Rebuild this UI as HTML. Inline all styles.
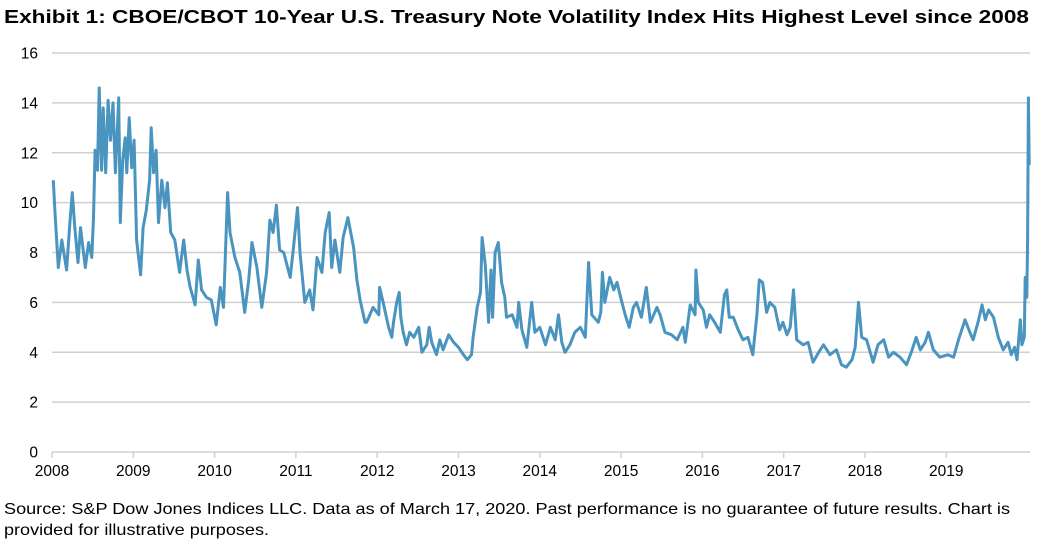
<!DOCTYPE html>
<html><head><meta charset="utf-8"><style>
body{margin:0;background:#fff;width:1040px;height:544px;overflow:hidden;font-family:"Liberation Sans",Arial,sans-serif;}
svg{position:absolute;left:0;top:0;}
</style></head><body>
<svg width="1040" height="544" id="chart">
<text x="4" y="23" font-size="18.5" font-weight="bold" font-family="Liberation Sans, Arial, sans-serif" textLength="1025" lengthAdjust="spacingAndGlyphs">Exhibit 1: CBOE/CBOT 10-Year U.S. Treasury Note Volatility Index Hits Highest Level since 2008</text>
<g font-size="16" font-family="Liberation Sans, Arial, sans-serif">
<text x="4" y="514" textLength="1006" lengthAdjust="spacingAndGlyphs">Source: S&amp;P Dow Jones Indices LLC. Data as of March 17, 2020. Past performance is no guarantee of future results. Chart is</text>
<text x="4" y="535" textLength="265" lengthAdjust="spacingAndGlyphs">provided for illustrative purposes.</text>
</g>
</svg>
<script>
const yTicks=[0,2,4,6,8,10,12,14,16];
const xTicks=[2008,2009,2010,2011,2012,2013,2014,2015,2016,2017,2018,2019];
const dates=[2008.016,2008.037,2008.078,2008.12,2008.18,2008.22,2008.25,2008.28,2008.32,2008.35,2008.41,2008.45,2008.49,2008.51,2008.53,2008.56,2008.58,2008.61,2008.63,2008.66,2008.69,2008.72,2008.75,2008.78,2008.82,2008.84,2008.87,2008.90,2008.92,2008.95,2008.98,2009.01,2009.04,2009.09,2009.12,2009.16,2009.20,2009.22,2009.25,2009.28,2009.31,2009.35,2009.39,2009.42,2009.46,2009.51,2009.57,2009.62,2009.66,2009.70,2009.76,2009.80,2009.84,2009.90,2009.96,2010.02,2010.07,2010.11,2010.16,2010.19,2010.25,2010.31,2010.37,2010.42,2010.46,2010.52,2010.58,2010.64,2010.68,2010.72,2010.76,2010.80,2010.85,2010.93,2010.97,2011.02,2011.05,2011.11,2011.17,2011.21,2011.26,2011.32,2011.36,2011.41,2011.44,2011.48,2011.54,2011.58,2011.64,2011.71,2011.75,2011.79,2011.85,
2011.87,2011.95,2012.02,2012.03,2012.08,2012.14,2012.18,2012.20,2012.24,2012.27,2012.29,2012.32,2012.36,2012.40,2012.45,2012.51,2012.55,2012.61,2012.64,2012.67,2012.73,2012.77,2012.81,2012.88,2012.94,2013.0,2013.06,2013.11,2013.16,2013.18,2013.23,2013.27,2013.29,2013.33,2013.37,2013.40,2013.42,2013.45,2013.49,2013.53,2013.57,2013.59,2013.66,2013.72,2013.74,2013.78,2013.84,2013.90,2013.94,2014.00,2014.07,2014.13,2014.19,2014.23,2014.27,2014.31,2014.37,2014.43,2014.50,2014.56,2014.60,2014.64,2014.72,2014.75,2014.77,2014.80,2014.86,2014.91,2014.95,2015.01,2015.05,2015.10,2015.15,2015.19,2015.25,2015.31,2015.36,2015.44,2015.48,2015.54,2015.62,2015.69,2015.76,2015.79,
2015.85,2015.91,2015.92,2015.95,2016.01,2016.05,2016.09,2016.15,2016.22,2016.27,2016.30,2016.33,2016.38,2016.44,2016.50,2016.56,2016.62,2016.67,2016.70,2016.74,2016.79,2016.83,2016.89,2016.95,2016.99,2017.04,2017.08,2017.12,2017.16,2017.24,2017.30,2017.36,2017.43,2017.49,2017.57,2017.65,2017.71,2017.77,2017.84,2017.88,2017.92,2017.96,2018.02,2018.10,2018.16,2018.23,2018.29,2018.35,2018.43,2018.51,2018.57,2018.63,2018.68,2018.74,2018.78,2018.84,2018.92,2019.02,2019.09,2019.15,2019.23,2019.29,2019.33,2019.39,2019.44,2019.48,2019.52,2019.58,2019.64,2019.70,2019.76,2019.80,2019.84,2019.87,2019.91,2019.93,2019.96,2019.97,2019.99,2020.00,2020.01,2020.02];
const values=[10.9,9.6,7.4,8.5,7.3,9.2,10.4,9.0,7.6,9.0,7.4,8.4,7.8,9.4,12.1,11.3,14.6,11.3,13.8,11.2,14.1,12.5,14.0,11.2,14.2,9.2,11.7,12.6,11.2,13.4,11.4,12.5,8.5,7.1,9.0,9.7,10.9,13.0,11.2,12.1,9.2,10.9,9.8,10.8,8.8,8.5,7.2,8.5,7.3,6.6,5.9,7.7,6.5,6.2,6.1,5.1,6.6,5.8,10.4,8.8,7.8,7.2,5.6,6.9,8.4,7.4,5.8,7.2,9.3,8.8,9.9,8.1,8.0,7.0,8.2,9.8,8.0,6.0,6.5,5.7,7.8,7.2,8.8,9.6,7.4,8.5,7.2,8.6,9.4,8.2,6.9,6.1,5.2,
5.2,5.8,5.5,6.6,5.9,5.0,4.6,5.2,6.0,6.4,5.4,4.8,4.3,4.8,4.6,5.0,4.0,4.3,5.0,4.4,3.9,4.5,4.1,4.7,4.4,4.2,3.9,3.7,3.9,4.6,5.8,6.4,8.6,7.5,5.2,7.3,5.4,8.0,8.4,6.8,6.2,5.4,5.5,5.0,6.0,4.9,4.2,6.0,4.8,5.0,4.3,5.0,4.5,5.5,4.4,4.0,4.3,4.8,5.0,4.6,7.6,5.5,5.2,5.6,7.2,6.0,7.0,6.5,6.8,6.0,5.5,5.0,5.8,6.0,5.4,6.6,5.2,5.8,5.5,4.8,4.7,4.5,5.0,4.4,
5.9,5.5,7.3,6.0,5.7,5.0,5.5,5.2,4.8,6.3,6.5,5.4,5.4,4.9,4.5,4.6,3.9,5.5,6.9,6.8,5.6,6.0,5.8,4.9,5.2,4.7,5.0,6.5,4.5,4.3,4.4,3.6,4.0,4.3,3.9,4.1,3.5,3.4,3.7,4.2,6.0,4.6,4.5,3.6,4.3,4.5,3.8,4.0,3.8,3.5,4.0,4.6,4.1,4.4,4.8,4.1,3.8,3.9,3.8,4.5,5.3,4.8,4.5,5.2,5.9,5.3,5.7,5.4,4.6,4.1,4.4,3.9,4.2,3.7,5.3,4.3,4.6,7.0,6.2,8.5,14.2,11.5];
const NS='http://www.w3.org/2000/svg';
const svg=document.getElementById('chart');
const X0=52,PPY=81.3,Y0=452,PPU=399/16;
function xs(t){return X0+(t-2008)*PPY;}
function ys(v){return Y0-v*PPU;}
function mk(tag,attrs){const e=document.createElementNS(NS,tag);for(const k in attrs)e.setAttribute(k,attrs[k]);svg.appendChild(e);return e;}
yTicks.forEach(v=>{
  const g=mk('line',{x1:X0,x2:1030,y1:ys(v),y2:ys(v),stroke:'#d0d0d0','stroke-width':1.5});
  
  
  const t=mk('text',{x:38,y:ys(v)+5.5,'text-anchor':'end','font-size':'15.5','font-family':'Liberation Sans, Arial, sans-serif',fill:'#000'});
  t.textContent=v;
  
  
});
xTicks.forEach(yr=>{
  const l=mk('line',{x1:xs(yr),x2:xs(yr),y1:Y0,y2:Y0+6,stroke:'#d0d0d0','stroke-width':1.5});
  
  
  const t=mk('text',{x:xs(yr),y:476,'text-anchor':'middle','font-size':'15.5','font-family':'Liberation Sans, Arial, sans-serif',fill:'#000'});
  t.textContent=yr;
  
  
});
let d='';
dates.forEach((t,i)=>{d+=(i?'L':'M')+xs(t).toFixed(1)+' '+ys(values[i]).toFixed(1);});
const p=mk('path',{d:d,fill:'none',stroke:'#4a94c0','stroke-width':3,'stroke-linejoin':'round'});


</script>
</body></html>
